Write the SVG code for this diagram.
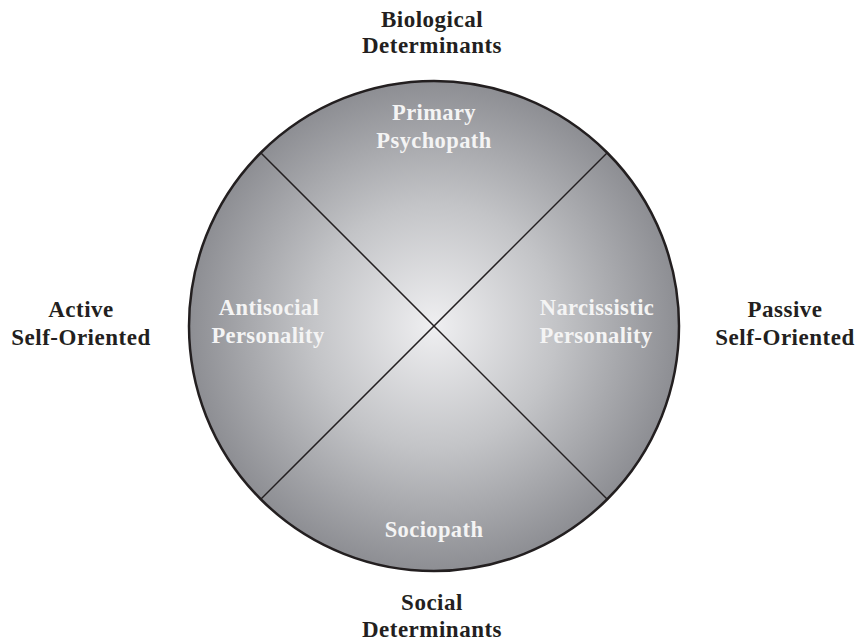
<svg xmlns="http://www.w3.org/2000/svg" width="862" height="643" viewBox="0 0 862 643">
<style>
.outer{font-family:"Liberation Serif","Times New Roman",serif;font-weight:bold;font-size:23px;fill:#231f20;text-anchor:middle;letter-spacing:0.5px}
.inner{font-family:"Liberation Serif","Times New Roman",serif;font-weight:bold;font-size:22.5px;fill:#f4f4f4;text-anchor:middle;letter-spacing:0.4px}
.div{stroke:#231f20;stroke-width:1.5;fill:none}
</style>
<defs>
<radialGradient id="g" cx="434" cy="326" r="245" gradientUnits="userSpaceOnUse">
<stop offset="0" stop-color="#efeff1"/>
<stop offset="0.5" stop-color="#c3c4c7"/>
<stop offset="1" stop-color="#8d8e93"/>
</radialGradient>
</defs>
<g id="circle">
<circle cx="434" cy="326" r="245" fill="url(#g)" stroke="#231f20" stroke-width="2.5"/>
</g>
<g id="connectors">
<line class="div" x1="261" y1="153" x2="607" y2="499"/>
<line class="div" x1="607" y1="153" x2="261" y2="499"/>
</g>
<g id="primary-psychopath"><text class="inner" x="434" y="120">Primary</text><text class="inner" x="434" y="148">Psychopath</text></g>
<g id="antisocial"><text class="inner" x="269" y="315">Antisocial</text><text class="inner" x="268" y="343">Personality</text></g>
<g id="narcissistic"><text class="inner" x="597" y="315">Narcissistic</text><text class="inner" x="596" y="343">Personality</text></g>
<g id="sociopath"><text class="inner" x="434" y="537">Sociopath</text></g>
<g id="biological"><text class="outer" x="432" y="27">Biological</text><text class="outer" x="432" y="53">Determinants</text></g>
<g id="social"><text class="outer" x="432" y="610">Social</text><text class="outer" x="432" y="637">Determinants</text></g>
<g id="active"><text class="outer" x="81" y="317">Active</text><text class="outer" x="81" y="345">Self-Oriented</text></g>
<g id="passive"><text class="outer" x="785" y="317">Passive</text><text class="outer" x="785" y="345">Self-Oriented</text></g>
</svg>
